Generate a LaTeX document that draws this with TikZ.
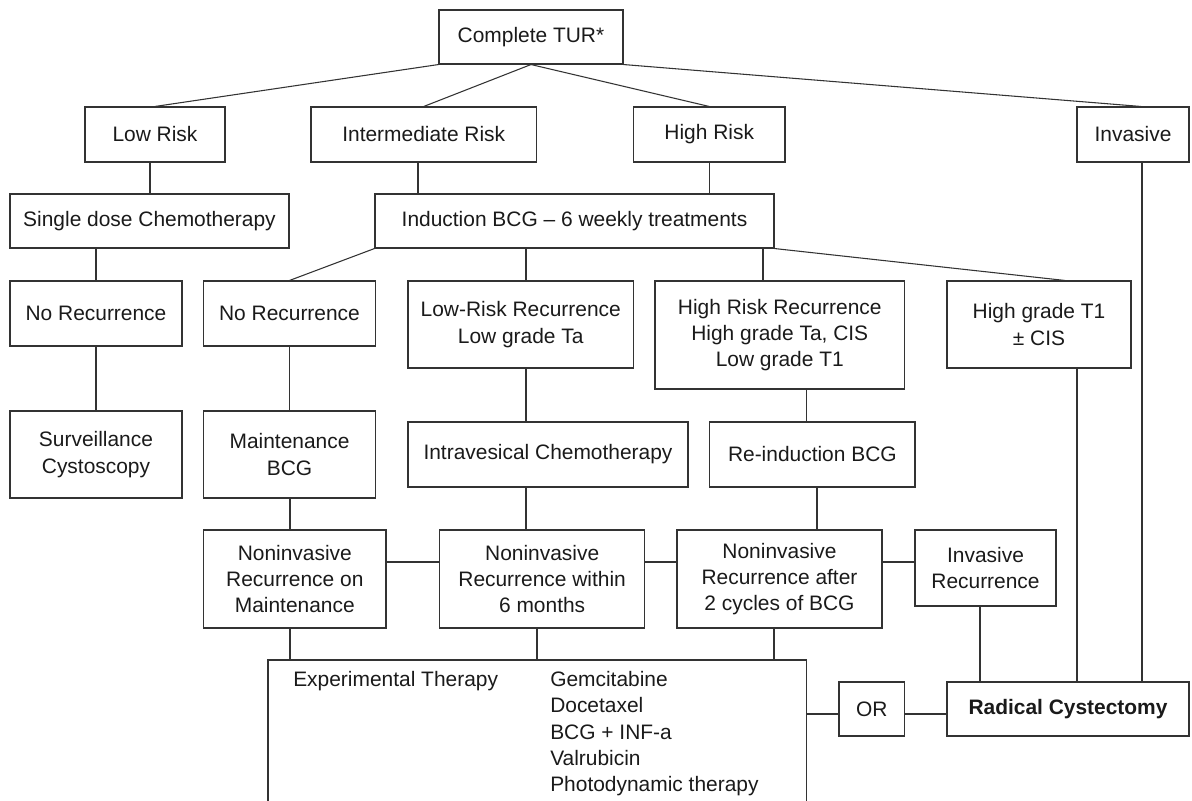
\documentclass[tikz,border=0pt]{standalone}
\usepackage{fontspec}
\setmainfont{Liberation Sans}
\definecolor{linec}{HTML}{333333}
\definecolor{txtc}{HTML}{1A1A1A}
\tikzset{
  box/.style={draw=linec, line width=0.8pt, inner sep=0pt, align=center, text=txtc,
              font=\fontsize{15.7}{19.7}\selectfont},
  conn/.style={draw=linec, line width=0.8pt},
  lbl/.style={inner sep=0pt, text=txtc, font=\fontsize{15.7}{19.7}\selectfont}
}
\newcommand{\mybox}[6]{\node[box, minimum width={(#4-#2)*0.75pt}, minimum height={(#5-#3)*0.75pt}] (#1) at ({(#2+#4)/2},{(#3+#5)/2}) {#6};}
\begin{document}
\begin{tikzpicture}[x=0.75pt,y=-0.75pt]
\useasboundingbox (0,0) rectangle (1192,800);
\clip (0,0) rectangle (1192,800);
% boxes
\mybox{tur}{439}{10}{623}{64}{Complete TUR*}
\mybox{low}{85}{107}{225}{162}{Low Risk}
\mybox{int}{311}{107}{536.5}{162}{Intermediate Risk}
\mybox{high}{633.5}{107}{785}{162}{High Risk}
\mybox{inv}{1077}{107}{1189}{162}{Invasive}
\mybox{sdc}{10}{194}{289}{248}{Single dose Chemotherapy}
\mybox{ind}{375}{194}{774}{248}{Induction BCG -- 6 weekly treatments}
\mybox{nra}{10}{281}{182}{346}{No Recurrence}
\mybox{nrb}{203.6}{281}{375.4}{346}{No Recurrence}
\mybox{lrr}{408}{281}{633.5}{368}{Low-Risk Recurrence\\Low grade Ta}
\mybox{hrr}{655}{281}{904.5}{389}{High Risk Recurrence\\High grade Ta, CIS\\Low grade T1}
\mybox{hg}{947}{281}{1131}{368}{High grade T1\\± CIS}
\mybox{surv}{10}{411}{182}{498}{Surveillance\\Cystoscopy}
\mybox{maint}{203.6}{411}{375.4}{498}{Maintenance\\BCG}
\mybox{ivc}{408}{422}{688}{487}{Intravesical Chemotherapy}
\mybox{rei}{709.7}{422}{915}{487}{Re-induction BCG}
\mybox{nia}{203.6}{530}{386}{628}{Noninvasive\\Recurrence on\\Maintenance}
\mybox{nib}{439.7}{530}{644.6}{628}{Noninvasive\\Recurrence within\\6 months}
\mybox{nic}{677}{530}{882}{628}{Noninvasive\\Recurrence after\\2 cycles of BCG}
\mybox{ir}{915}{530}{1056}{606}{Invasive\\Recurrence}
\mybox{exp}{268}{660}{806.5}{840}{}
\mybox{ornode}{839}{682}{904.5}{736}{OR}
\mybox{rc}{947}{682}{1189}{736}{\bfseries Radical Cystectomy}
\node[lbl, anchor=base west] (exptitle) at (293,686.5) {Experimental Therapy};
\node[lbl, anchor=base west] (explist) at (550,686.5) {\begin{tabular}[t]{@{}l@{}}Gemcitabine\\Docetaxel\\BCG + INF-a\\Valrubicin\\Photodynamic therapy\end{tabular}};
% connectors
\draw[conn] (tur.south west) -- (low.north);
\draw[conn] (tur.south) -- (int.north);
\draw[conn] (tur.south) -- (high.north);
\draw[conn] (tur.south east) -- (inv.north -| 1141,0);
\draw[conn] (low.south -| 150,0) -- (sdc.north -| 150,0);
\draw[conn] (int.south -| 418,0) -- (ind.north -| 418,0);
\draw[conn] (high.south) -- (ind.north -| high.south);
\draw[conn] (sdc.south -| nra.north) -- (nra.north);
\draw[conn] (nra.south) -- (surv.north);
\draw[conn] (ind.south west) -- (nrb.north);
\draw[conn] (ind.south -| 526,0) -- (lrr.north -| 526,0);
\draw[conn] (ind.south -| 763,0) -- (hrr.north -| 763,0);
\draw[conn] (ind.south east) -- (hg.north -| 1065,0);
\draw[conn] (nrb.south) -- (maint.north);
\draw[conn] (maint.south -| 290,0) -- (nia.north -| 290,0);
\draw[conn] (lrr.south -| 526,0) -- (ivc.north -| 526,0);
\draw[conn] (ivc.south -| 526,0) -- (nib.north -| 526,0);
\draw[conn] (hrr.south -| 806.5,0) -- (rei.north -| 806.5,0);
\draw[conn] (rei.south -| 817,0) -- (nic.north -| 817,0);
\draw[conn] (nia.east |- 0,562) -- (nib.west |- 0,562);
\draw[conn] (nib.east |- 0,562) -- (nic.west |- 0,562);
\draw[conn] (nic.east |- 0,562) -- (ir.west |- 0,562);
\draw[conn] (nia.south -| 290,0) -- (exp.north -| 290,0);
\draw[conn] (nib.south -| 537,0) -- (exp.north -| 537,0);
\draw[conn] (nic.south -| 774,0) -- (exp.north -| 774,0);
\draw[conn] (exp.east |- 0,714) -- (ornode.west |- 0,714);
\draw[conn] (ornode.east |- 0,714) -- (rc.west |- 0,714);
\draw[conn] (ir.south -| 980,0) -- (rc.north -| 980,0);
\draw[conn] (hg.south -| 1077,0) -- (rc.north -| 1077,0);
\draw[conn] (inv.south -| 1142,0) -- (rc.north -| 1142,0);
\end{tikzpicture}
\end{document}
